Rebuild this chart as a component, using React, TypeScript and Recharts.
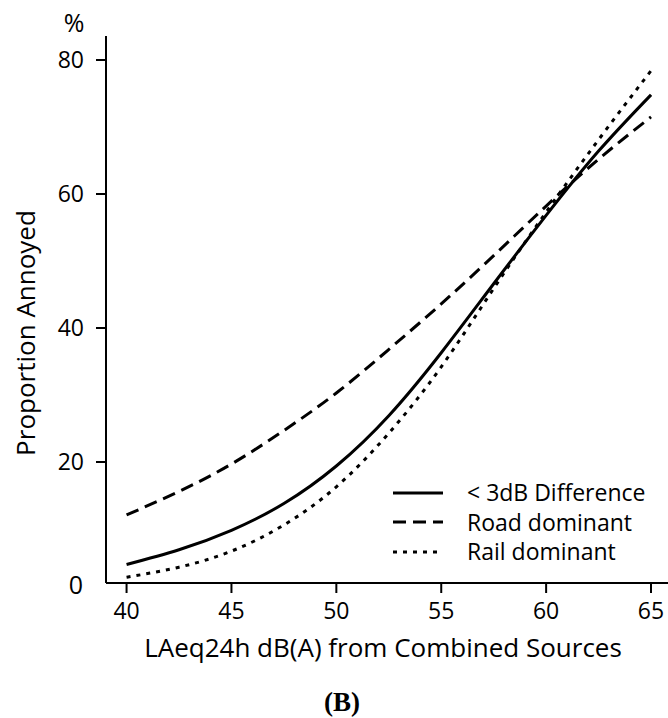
import { LineChart, Line, XAxis, YAxis, Legend, Label } from 'recharts';

// dB(A) levels the curves were read at
const LEVELS = [40, 42.5, 45, 47.5, 50, 52.5, 55, 57.5, 60, 62.5, 65];
// % annoyed
const DIFF_UNDER_3DB = [4.7, 6.9, 9.8, 13.8, 19.4, 26.9, 36.3, 46.6, 56.8, 66.4, 74.8];
const ROAD_DOMINANT = [12.1, 15.6, 19.7, 24.7, 30.3, 36.8, 43.6, 50.8, 58.2, 65.2, 71.5];
const RAIL_DOMINANT = [2.8, 4.3, 6.7, 10.6, 16.3, 24.3, 34.2, 45.9, 57.3, 68.1, 78.4];

const X_TICKS = [40, 45, 50, 55, 60, 65];
const Y_TICKS = [20, 40, 60, 80];
const SERIES_NAMES = ['< 3dB Difference', 'Road dominant', 'Rail dominant'];

const FONT = '"Open Sans", sans-serif';

const data = LEVELS.map((x, i) => ({
  x,
  diff: DIFF_UNDER_3DB[i],
  road: ROAD_DOMINANT[i],
  rail: RAIL_DOMINANT[i]
}));

const series = [
  { key: 'diff', name: SERIES_NAMES[0], dash: undefined },
  { key: 'road', name: SERIES_NAMES[1], dash: '13 7' },
  { key: 'rail', name: SERIES_NAMES[2], dash: '4 6' }
];

function LegendBox() {
  return (
    <div style={{ fontFamily: FONT, fontSize: 23, color: '#000' }}>
      {series.map((s) => (
        <div key={s.key} style={{ display: 'flex', alignItems: 'center', height: 29.5 }}>
          <svg width={50} height={10} style={{ display: 'block' }}>
            <line x1={0} y1={5} x2={50} y2={5} stroke="#000" strokeWidth={3} strokeDasharray={s.dash} />
          </svg>
          <span style={{ marginLeft: 24, lineHeight: 1 }}>{s.name}</span>
        </div>
      ))}
    </div>
  );
}

const tickStyle = { fontFamily: FONT, fontSize: 23, fill: '#000' };

export default function App() {
  return (
    <div
      style={{
        position: 'absolute',
        left: 0,
        top: 0,
        width: 668,
        height: 718,
        overflow: 'hidden',
        background: '#fff'
      }}
    >
      <LineChart width={680} height={718} data={data} margin={{ top: 36, right: 8, bottom: 0, left: 0 }}>
        <XAxis
          dataKey="x"
          type="number"
          domain={[39.02, 66]}
          ticks={X_TICKS}
          allowDataOverflow
          height={135}
          stroke="#000"
          strokeWidth={2}
          tickSize={10}
          tickMargin={10}
          tick={tickStyle}
        >
          <Label
            content={() => (
              <text x={383} y={657} textAnchor="middle" fontFamily={FONT} fontSize={26} fill="#000">
                LAeq24h dB(A) from Combined Sources
              </text>
            )}
          />
        </XAxis>
        <XAxis
          xAxisId="top"
          orientation="top"
          dataKey="x"
          type="number"
          domain={[39.02, 66]}
          height={0}
          tick={false}
          tickLine={false}
          stroke="#000"
          strokeWidth={2}
        />
        <YAxis
          type="number"
          domain={[1.94, 83.58]}
          ticks={Y_TICKS}
          allowDataOverflow
          width={106}
          stroke="#000"
          strokeWidth={2}
          tickSize={10}
          tickMargin={12}
          tick={tickStyle}
        >
          <Label
            content={() => (
              <text
                transform="translate(35,333) rotate(-90)"
                textAnchor="middle"
                fontFamily={FONT}
                fontSize={26}
                fill="#000"
              >
                Proportion Annoyed
              </text>
            )}
          />
        </YAxis>
        <Legend
          layout="vertical"
          align="center"
          verticalAlign="middle"
          content={() => <LegendBox />}
          wrapperStyle={{ position: 'absolute', left: 393, top: 478, width: 270 }}
        />
        {series.map((s) => (
          <Line
            key={s.key}
            dataKey={s.key}
            name={s.name}
            type="natural"
            stroke="#000"
            strokeWidth={3}
            strokeDasharray={s.dash}
            dot={false}
            activeDot={false}
            isAnimationActive={false}
          />
        ))}
      </LineChart>
      <svg
        width={668}
        height={718}
        style={{ position: 'absolute', left: 0, top: 0, pointerEvents: 'none' }}
      >
        <text x={74} y={32} textAnchor="middle" fontFamily={FONT} fontSize={25} fill="#000">
          %
        </text>
        <text x={83} y={594} textAnchor="end" fontFamily={FONT} fontSize={25} fill="#000">
          0
        </text>
        <text
          x={342}
          y={711}
          textAnchor="middle"
          fontFamily='"Liberation Serif", serif'
          fontWeight="bold"
          fontSize={27}
          fill="#000"
        >
          (B)
        </text>
      </svg>
    </div>
  );
}
